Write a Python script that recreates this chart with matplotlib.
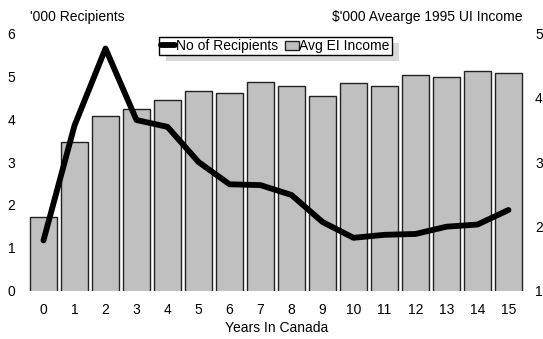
import matplotlib
matplotlib.use('Agg')
import matplotlib.pyplot as plt
from matplotlib.patches import Rectangle
import numpy as np

plt.rcParams['font.family'] = ['Liberation Sans', 'DejaVu Sans']
plt.rcParams['font.size'] = 10

# years since landing in Canada
years = list(range(16))
# thousands of EI recipients
recipients = [1.17, 3.85, 5.65, 3.98, 3.82, 3.0, 2.48, 2.46, 2.23, 1.6,
              1.23, 1.3, 1.32, 1.49, 1.54, 1.88]
# average 1995 UI income, $'000
avg_income = [2.14, 3.31, 3.71, 3.83, 3.97, 4.11, 4.08, 4.24, 4.19, 4.02,
              4.23, 4.19, 4.36, 4.33, 4.41, 4.38]

W, H = 543, 339
fig = plt.figure(figsize=(W / 100, H / 100), dpi=100)
ax = fig.add_axes([28 / W, 1 - 290.5 / H, 496 / W, 257 / H])
ax2 = ax.twinx()

# bars on the income scale (right)
bars = ax.bar(years, avg_income, width=0.87, bottom=0,
              color='#c0c0c0', edgecolor='#222222', linewidth=1,
              label='Avg EI Income')
ax.set_ylim(1, 5)
ax.set_xlim(-0.5, 15.5)
ax.yaxis.tick_right()
ax.set_yticks([1, 2, 3, 4, 5])
ax.set_xticks(years)

# recipients line on the left scale
line, = ax2.plot(years, recipients, color='black', lw=4.2,
                 solid_capstyle='round', label='No of Recipients')
ax2.set_ylim(0, 6)
ax2.yaxis.tick_left()
ax2.set_yticks(range(7))

for a in (ax, ax2):
    for s in a.spines.values():
        s.set_visible(False)
    a.tick_params(length=0)
ax.tick_params(axis='x', pad=9)
ax.tick_params(axis='y', pad=8)
ax2.tick_params(axis='y', pad=9)

fig.text(30 / W, 1 - 17 / H, "'000 Recipients", ha='left', va='center')
fig.text(522 / W, 1 - 17 / H, "$'000 Avearge 1995 UI Income",
         ha='right', va='center')
fig.text(277 / W, 1 - 328 / H, 'Years In Canada', ha='center', va='center')

leg = ax2.legend([line, bars], ['No of Recipients', 'Avg EI Income'],
                 ncol=2, loc='upper left',
                 bbox_to_anchor=(159 / W, 1 - 37 / H),
                 bbox_transform=fig.transFigure, borderaxespad=0,
                 fancybox=False, framealpha=1, edgecolor='black',
                 handlelength=1.0, handletextpad=0.05, columnspacing=0.5,
                 borderpad=0.15, handleheight=0.6)
leg.get_frame().set_linewidth(1)

# flat grey drop shadow behind the legend box
fig.canvas.draw()
bb = leg.get_window_extent()
shadow = Rectangle(((bb.x0 + 7) / W, (bb.y0 - 6) / H), bb.width / W,
                   bb.height / H, transform=fig.transFigure,
                   facecolor='#d9d9d9', edgecolor='none', zorder=4,
                   clip_on=False)
ax2.add_artist(shadow)

fig.savefig('out.png', dpi=100)
